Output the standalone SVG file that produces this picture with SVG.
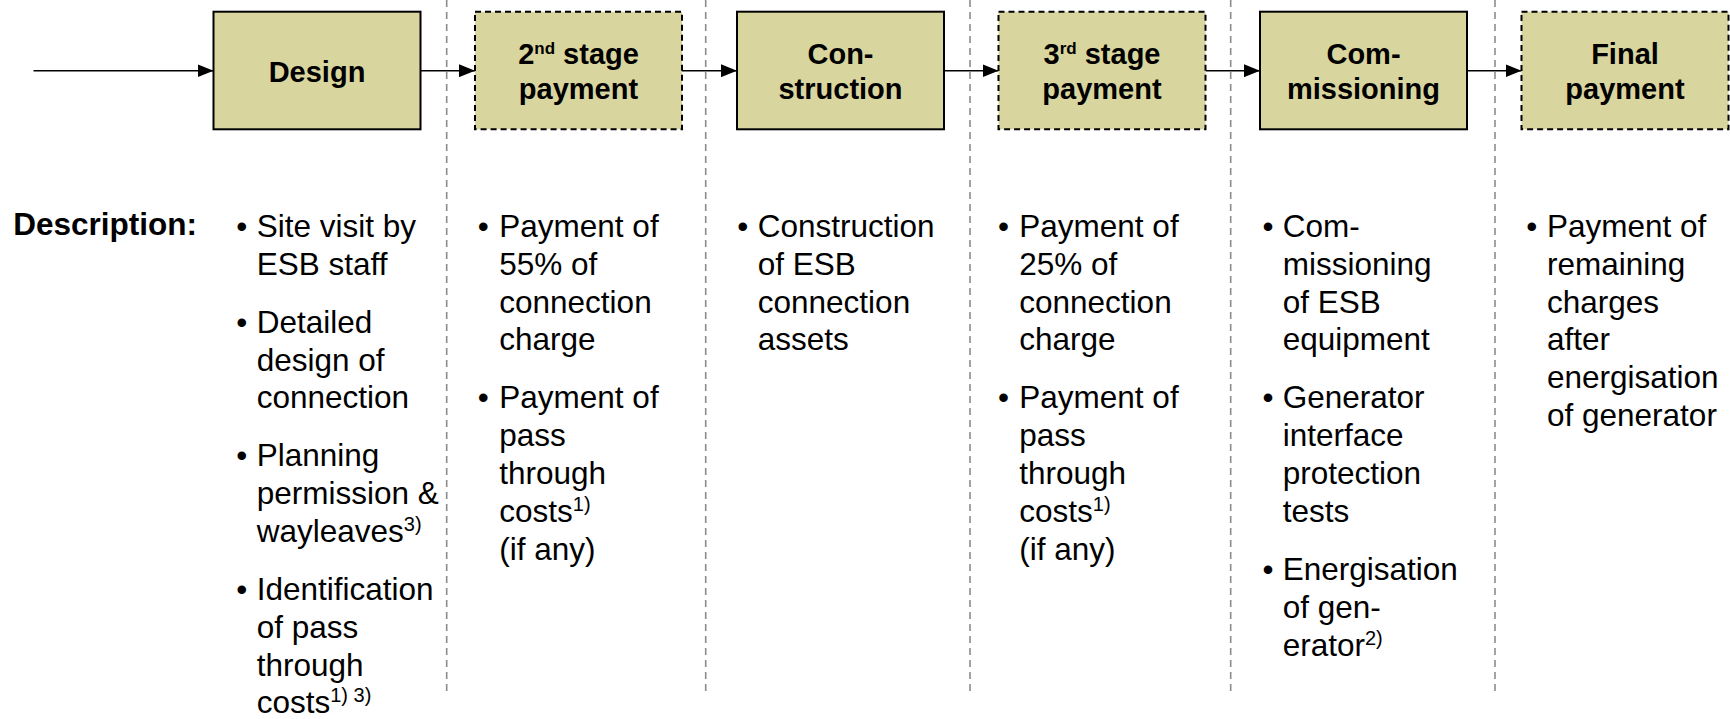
<svg xmlns="http://www.w3.org/2000/svg" width="1730" height="719" viewBox="0 0 1730 719">
<defs>
<style>
.box{fill:#D9D59E;stroke:#000;stroke-width:2}
.dbox{fill:#D9D59E;stroke:#000;stroke-width:2;stroke-dasharray:6,4}
.sep{stroke:#8C8C8C;stroke-width:1.6;stroke-dasharray:7,5;fill:none}
.conn{stroke:#000;stroke-width:1.6;fill:none}
.bt{font-family:"Liberation Sans",Arial,sans-serif;font-weight:bold;font-size:29px;fill:#000;text-anchor:middle}
.sup{font-size:17px}
.dt{font-family:"Liberation Sans",Arial,sans-serif;font-size:31.5px;fill:#000}
.bul{font-family:"Liberation Sans",Arial,sans-serif;font-size:31.5px;fill:#000;text-anchor:middle}
.ds{font-size:20px}
.hd{font-family:"Liberation Sans",Arial,sans-serif;font-weight:bold;font-size:31.5px;fill:#000}
</style>
<marker id="ah" markerUnits="userSpaceOnUse" markerWidth="16" markerHeight="13" refX="16" refY="6.5" orient="auto">
<path d="M0,0 L16,6.5 L0,13 z" fill="#000"/>
</marker>
</defs>
<rect width="1730" height="719" fill="#fff"/>

<g id="separators">
<line class="sep" x1="446.7" y1="0" x2="446.7" y2="694"/>
<line class="sep" x1="705.7" y1="0" x2="705.7" y2="694"/>
<line class="sep" x1="970" y1="0" x2="970" y2="694"/>
<line class="sep" x1="1230.7" y1="0" x2="1230.7" y2="694"/>
<line class="sep" x1="1495" y1="0" x2="1495" y2="694"/>
</g>

<g id="connectors">
<line class="conn" x1="33.5" y1="70.7" x2="213.5" y2="70.7" marker-end="url(#ah)"/>
<line class="conn" x1="420.5" y1="70.7" x2="475" y2="70.7" marker-end="url(#ah)"/>
<line class="conn" x1="682" y1="70.7" x2="737" y2="70.7" marker-end="url(#ah)"/>
<line class="conn" x1="944" y1="70.7" x2="998.5" y2="70.7" marker-end="url(#ah)"/>
<line class="conn" x1="1205.5" y1="70.7" x2="1260" y2="70.7" marker-end="url(#ah)"/>
<line class="conn" x1="1467" y1="70.7" x2="1521.5" y2="70.7" marker-end="url(#ah)"/>
</g>

<g id="design">
<rect class="box" x="213.5" y="11.7" width="207" height="117.6"/>
<text class="bt" x="317" y="81.7">Design</text>
</g>
<g id="stage2">
<rect class="dbox" x="475" y="11.7" width="207" height="117.6"/>
<text class="bt" x="578.5" y="64">2<tspan class="sup" dy="-10">nd</tspan><tspan dy="10"> stage</tspan></text>
<text class="bt" x="578.5" y="99">payment</text>
</g>
<g id="construction">
<rect class="box" x="737" y="11.7" width="207" height="117.6"/>
<text class="bt" x="840.5" y="64">Con-</text>
<text class="bt" x="840.5" y="99">struction</text>
</g>
<g id="stage3">
<rect class="dbox" x="998.5" y="11.7" width="207" height="117.6"/>
<text class="bt" x="1102" y="64">3<tspan class="sup" dy="-10">rd</tspan><tspan dy="10"> stage</tspan></text>
<text class="bt" x="1102" y="99">payment</text>
</g>
<g id="commissioning">
<rect class="box" x="1260" y="11.7" width="207" height="117.6"/>
<text class="bt" x="1363.5" y="64">Com-</text>
<text class="bt" x="1363.5" y="99">missioning</text>
</g>
<g id="final">
<rect class="dbox" x="1521.5" y="11.7" width="207" height="117.6"/>
<text class="bt" x="1625" y="64">Final</text>
<text class="bt" x="1625" y="99">payment</text>
</g>

<g id="description-label">
<text class="hd" x="13.3" y="235">Description:</text>
</g>

<g id="desc-design">
<text class="bul" x="241.7" y="237">•</text>
<text class="bul" x="241.7" y="332.8">•</text>
<text class="bul" x="241.7" y="466.4">•</text>
<text class="bul" x="241.7" y="600">•</text>
<text class="dt">
<tspan x="256.7" y="237">Site visit by</tspan>
<tspan x="256.7" y="274.8">ESB staff</tspan>
<tspan x="256.7" y="332.8">Detailed</tspan>
<tspan x="256.7" y="370.6">design of</tspan>
<tspan x="256.7" y="408.4">connection</tspan>
<tspan x="256.7" y="466.4">Planning</tspan>
<tspan x="256.7" y="504.2">permission &amp;</tspan>
<tspan x="256.7" y="542">wayleaves</tspan><tspan class="ds" dy="-11">3)</tspan>
<tspan x="256.7" y="600">Identification</tspan>
<tspan x="256.7" y="637.8">of pass</tspan>
<tspan x="256.7" y="675.6">through</tspan>
<tspan x="256.7" y="713.4">costs</tspan><tspan class="ds" dy="-11">1) 3)</tspan>
</text>
</g>

<g id="desc-stage2">
<text class="bul" x="483.3" y="237">•</text>
<text class="bul" x="483.3" y="408.4">•</text>
<text class="dt">
<tspan x="499.3" y="237">Payment of</tspan>
<tspan x="499.3" y="274.8">55% of</tspan>
<tspan x="499.3" y="312.6">connection</tspan>
<tspan x="499.3" y="350.4">charge</tspan>
<tspan x="499.3" y="408.4">Payment of</tspan>
<tspan x="499.3" y="446.2">pass</tspan>
<tspan x="499.3" y="484">through</tspan>
<tspan x="499.3" y="521.8">costs</tspan><tspan class="ds" dy="-11">1)</tspan>
<tspan x="499.3" y="559.6">(if any)</tspan>
</text>
</g>

<g id="desc-construction">
<text class="bul" x="742.7" y="237">•</text>
<text class="dt">
<tspan x="757.8" y="237">Construction</tspan>
<tspan x="757.8" y="274.8">of ESB</tspan>
<tspan x="757.8" y="312.6">connection</tspan>
<tspan x="757.8" y="350.4">assets</tspan>
</text>
</g>

<g id="desc-stage3">
<text class="bul" x="1003.5" y="237">•</text>
<text class="bul" x="1003.5" y="408.4">•</text>
<text class="dt">
<tspan x="1019.3" y="237">Payment of</tspan>
<tspan x="1019.3" y="274.8">25% of</tspan>
<tspan x="1019.3" y="312.6">connection</tspan>
<tspan x="1019.3" y="350.4">charge</tspan>
<tspan x="1019.3" y="408.4">Payment of</tspan>
<tspan x="1019.3" y="446.2">pass</tspan>
<tspan x="1019.3" y="484">through</tspan>
<tspan x="1019.3" y="521.8">costs</tspan><tspan class="ds" dy="-11">1)</tspan>
<tspan x="1019.3" y="559.6">(if any)</tspan>
</text>
</g>

<g id="desc-commissioning">
<text class="bul" x="1268" y="237">•</text>
<text class="bul" x="1268" y="408.4">•</text>
<text class="bul" x="1268" y="580.4">•</text>
<text class="dt">
<tspan x="1282.7" y="237">Com-</tspan>
<tspan x="1282.7" y="274.8">missioning</tspan>
<tspan x="1282.7" y="312.6">of ESB</tspan>
<tspan x="1282.7" y="350.4">equipment</tspan>
<tspan x="1282.7" y="408.4">Generator</tspan>
<tspan x="1282.7" y="446.2">interface</tspan>
<tspan x="1282.7" y="484">protection</tspan>
<tspan x="1282.7" y="521.8">tests</tspan>
<tspan x="1282.7" y="580.4">Energisation</tspan>
<tspan x="1282.7" y="618.2">of gen-</tspan>
<tspan x="1282.7" y="656">erator</tspan><tspan class="ds" dy="-11">2)</tspan>
</text>
</g>

<g id="desc-final">
<text class="bul" x="1531.7" y="237">•</text>
<text class="dt">
<tspan x="1547" y="237">Payment of</tspan>
<tspan x="1547" y="274.8">remaining</tspan>
<tspan x="1547" y="312.6">charges</tspan>
<tspan x="1547" y="350.4">after</tspan>
<tspan x="1547" y="388.2">energisation</tspan>
<tspan x="1547" y="426">of generator</tspan>
</text>
</g>
</svg>
